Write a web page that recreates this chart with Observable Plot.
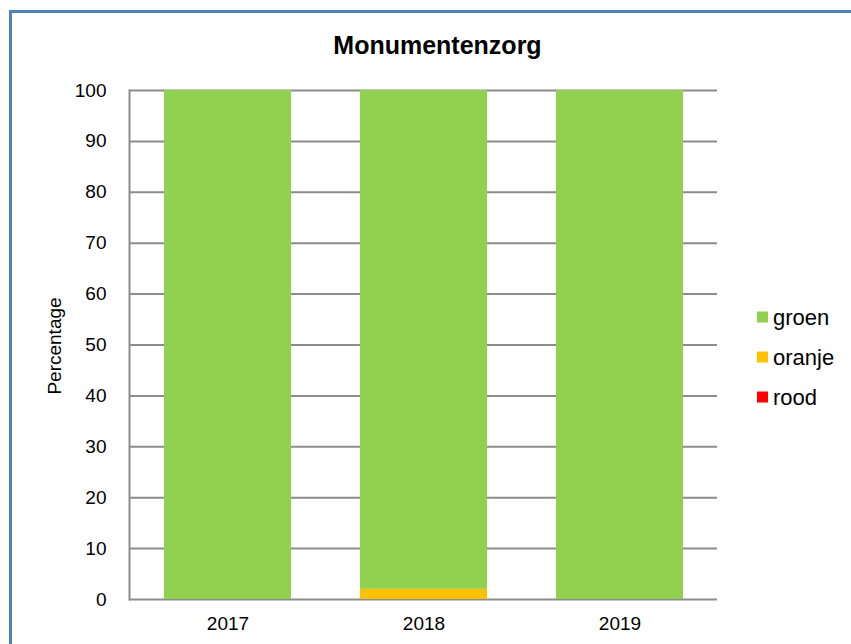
<!DOCTYPE html>
<html>
<head>
<meta charset="utf-8">
<script src="https://cdn.jsdelivr.net/npm/d3@7"></script>
<script src="https://cdn.jsdelivr.net/npm/@observablehq/plot@0.6"></script>
<style>
  html, body { margin: 0; padding: 0; background: #fff; overflow: hidden; }
  #wrap { position: relative; width: 851px; height: 644px; overflow: hidden; background: #fff;
          font-family: "Liberation Sans", Arial, sans-serif; }
  #chart, #overlay { position: absolute; left: 0; top: 0; }
  #frame { position: absolute; left: 9px; top: 10px; width: 2000px; height: 2000px;
           border: 3px solid #4F81BD; pointer-events: none; }
</style>
</head>
<body>
<div id="wrap">
  <div id="chart"></div>
  <svg id="overlay" width="851" height="644"></svg>
  <div id="frame"></div>
</div>
<script>
// ---- data ----
const title = "Monumentenzorg";
const yLabel = "Percentage";
const years = ["2017", "2018", "2019"];
const groen = [100, 98, 100];
const oranje = [0, 2, 0];
const rood = [0, 0, 0];
const categories = ["groen", "oranje", "rood"];
const colors = ["#92D050", "#FFC000", "#FF0000"];
const yTicks = [0, 10, 20, 30, 40, 50, 60, 70, 80, 90, 100];

const seriesByCat = { groen, oranje, rood };
// stacking order from bottom: rood, oranje, groen
const stackOrder = ["rood", "oranje", "groen"];
const data = years.flatMap((year, i) =>
  stackOrder.map(cat => ({ year, category: cat, value: seriesByCat[cat][i] }))
);

const chart = Plot.plot({
  width: 851,
  height: 644,
  marginTop: 90,
  marginBottom: 45,
  marginLeft: 129,
  marginRight: 134,
  style: { fontFamily: "'Liberation Sans', Arial, sans-serif", color: "#000", background: "transparent" },
  x: { domain: years, paddingInner: 0.354, paddingOuter: 0.177, label: null },
  y: { domain: [0, 100], label: null },
  color: { domain: categories, range: colors },
  marks: [
    Plot.gridY(yTicks, { stroke: "#8c8c8c", strokeWidth: 2, strokeOpacity: 1 }),
    Plot.barY(data, { x: "year", y: "value", fill: "category", filter: d => d.value > 0 }),
    Plot.frame({ anchor: "left", stroke: "#8c8c8c", strokeWidth: 2 }),
    Plot.axisY(yTicks, { tickSize: 0, tickPadding: 23, fontSize: 19, label: null }),
    Plot.axisX({ tickSize: 0, tickPadding: 17, fontSize: 19, label: null }),
    Plot.text([yLabel], { frameAnchor: "left", text: d => d, textAnchor: "middle", rotate: -90, dx: -75, dy: 1, fontSize: 19 })
  ]
});
document.getElementById("chart").appendChild(chart);

// ---- title and legend ----
const ov = d3.select("#overlay");
ov.append("text")
  .attr("x", 437.5).attr("y", 54)
  .attr("text-anchor", "middle")
  .attr("font-family", "'Liberation Sans', Arial, sans-serif")
  .attr("font-weight", "bold").attr("font-size", 25)
  .attr("fill", "#000")
  .text(title);

const lg = ov.selectAll("g.item").data(categories).join("g")
  .attr("transform", (d, i) => `translate(757, ${311.5 + i * 40})`);
lg.append("rect").attr("width", 11).attr("height", 11).attr("fill", (d, i) => colors[i]);
lg.append("text").attr("x", 16).attr("y", 13.5)
  .attr("font-family", "'Liberation Sans', Arial, sans-serif")
  .attr("font-size", 22).attr("fill", "#000")
  .text(d => d);
</script>
</body>
</html>
